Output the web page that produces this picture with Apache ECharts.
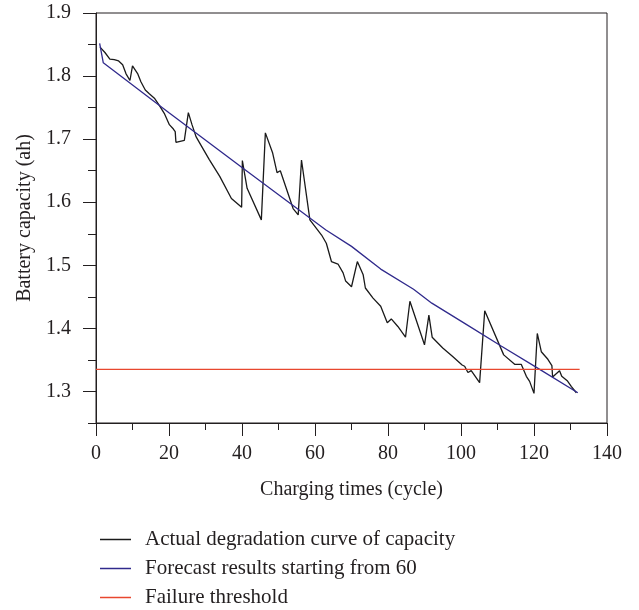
<!DOCTYPE html>
<html>
<head>
<meta charset="utf-8">
<script src="https://cdn.jsdelivr.net/npm/echarts@6/dist/echarts.min.js"></script>
<style>
  html, body { margin: 0; padding: 0; background: #fff; }
  #charts { width: 639px; height: 610px; }
</style>
</head>
<body>
<div id="charts"></div>
<script>
// actual capacity (cycle, ah)
var actualCycles = [1.1, 2.5, 3.8, 5.0, 6.2, 7.3, 8.2, 9.3, 10.0, 11.4, 12.3, 13.5, 14.6, 16.0, 17.3, 18.7, 20.1, 21.2, 21.7, 21.9,
  24.2, 25.3, 26.3, 27.4, 28.7, 31.0, 33.9, 37.1, 39.9, 40.1, 41.4, 45.3, 46.4, 48.4, 49.6, 50.5, 54.0, 55.4, 56.3, 58.6,
  61.8, 63.1, 64.5, 66.3, 67.7, 68.4, 70.0, 71.6, 73.2, 73.8, 75.9, 78.0, 79.8, 80.9, 82.7, 84.8, 86.0, 90.0, 91.2, 92.1,
  95.0, 97.8, 100.3, 101.0, 101.9, 102.8, 105.1, 106.5, 111.7, 114.7, 116.5, 117.9, 118.8, 120.0, 120.9, 122.0, 123.8, 124.9, 125.1, 127.0,
  127.6, 129.1, 130.2, 131.6];
var actualCap = [1.846, 1.837, 1.827, 1.826, 1.824, 1.818, 1.804, 1.793, 1.816, 1.804, 1.791, 1.778, 1.772, 1.765, 1.754, 1.741, 1.723, 1.716, 1.712, 1.695,
  1.698, 1.742, 1.723, 1.704, 1.691, 1.668, 1.641, 1.606, 1.592, 1.666, 1.622, 1.572, 1.710, 1.678, 1.647, 1.650, 1.590, 1.580, 1.667, 1.572,
  1.548, 1.535, 1.506, 1.502, 1.488, 1.475, 1.466, 1.506, 1.485, 1.464, 1.448, 1.435, 1.409, 1.415, 1.403, 1.386, 1.443, 1.374, 1.421, 1.386,
  1.369, 1.355, 1.342, 1.340, 1.330, 1.333, 1.314, 1.428, 1.358, 1.343, 1.343, 1.324, 1.316, 1.297, 1.392, 1.363, 1.351, 1.341, 1.323, 1.333,
  1.324, 1.317, 1.308, 1.298];

// forecast curve
var forecastCycles = [1, 2, 20, 40, 63, 70, 78, 87, 92, 101, 111, 121, 132];
var forecastCap = [1.852, 1.821, 1.742, 1.655, 1.556, 1.530, 1.494, 1.462, 1.440, 1.408, 1.372, 1.337, 1.298];

// failure threshold
var thresholdCycles = [0, 132.5];
var thresholdCap = [1.335, 1.335];

var yMajor = [1.3, 1.4, 1.5, 1.6, 1.7, 1.8, 1.9];
var yMinor = [1.25, 1.35, 1.45, 1.55, 1.65, 1.75, 1.85];

var legendNames = ['Actual degradation curve of capacity', 'Forecast results starting from 60', 'Failure threshold'];

function pairs(xs, ys){
	var arr = [];
	for(var i = 0; i < xs.length; i++){
		arr.push([xs[i], ys[i]]);
	}
	return arr;
}

var FONT = 'Liberation Serif';
var AXIS = '#231f20';

var charts = echarts.init(document.getElementById('charts'));
var option = {
	animation: false,
	grid: {
		left: 96, right: 32, top: 13, bottom: 187,
		show: true, borderColor: AXIS, borderWidth: 1
	},
	legend: {
		orient: 'vertical',
		left: 100,
		top: 528.5,
		height: 90,
		padding: 0,
		itemWidth: 31,
		itemHeight: 1.5,
		itemGap: 7,
		icon: 'rect',
		data: legendNames,
		textStyle: { fontFamily: FONT, fontSize: 21, color: '#231f20', lineHeight: 22, padding: [0, 0, 0, 9] }
	},
	xAxis: {
		type: 'value',
		min: 0, max: 140, interval: 20,
		name: 'Charging times (cycle)',
		nameLocation: 'middle',
		nameGap: 57,
		nameTextStyle: { fontFamily: FONT, fontSize: 20, color: '#231f20' },
		axisLine: { lineStyle: { color: AXIS, width: 1 } },
		axisTick: { length: 13, lineStyle: { color: AXIS } },
		minorTick: { show: true, splitNumber: 2, length: 7, lineStyle: { color: AXIS } },
		splitLine: { show: false },
		axisLabel: { margin: 21, fontFamily: FONT, fontSize: 20, color: '#231f20' }
	},
	yAxis: [{
		type: 'value',
		min: 1.25, max: 1.9,
		name: 'Battery capacity (ah)',
		nameLocation: 'middle',
		nameGap: 61,
		nameTextStyle: { fontFamily: FONT, fontSize: 20, color: '#231f20' },
		axisLine: { show: true, lineStyle: { color: AXIS, width: 1 } },
		axisTick: { show: true, length: 13, customValues: yMajor, lineStyle: { color: AXIS } },
		splitLine: { show: false },
		axisLabel: {
			margin: 25, fontFamily: FONT, fontSize: 20, color: '#231f20',
			customValues: yMajor,
			formatter: function(v){ return v.toFixed(1); }
		}
	},{
		type: 'value',
		min: 1.25, max: 1.9,
		position: 'left',
		axisLine: { show: false },
		axisTick: { show: true, length: 8, customValues: yMinor, lineStyle: { color: AXIS } },
		axisLabel: { show: false },
		splitLine: { show: false }
	}],
	series: [{
		name: legendNames[0],
		type: 'line',
		symbol: 'none',
		itemStyle: { color: '#1a1a1a' },
		lineStyle: { color: '#1a1a1a', width: 1.3 },
		data: pairs(actualCycles, actualCap)
	},{
		name: legendNames[1],
		type: 'line',
		symbol: 'none',
		itemStyle: { color: '#302a8c' },
		lineStyle: { color: '#302a8c', width: 1.3 },
		data: pairs(forecastCycles, forecastCap)
	},{
		name: legendNames[2],
		type: 'line',
		symbol: 'none',
		itemStyle: { color: '#e8472e' },
		lineStyle: { color: '#e8472e', width: 1.3 },
		data: pairs(thresholdCycles, thresholdCap)
	}]
};
charts.setOption(option);
</script>
</body>
</html>
